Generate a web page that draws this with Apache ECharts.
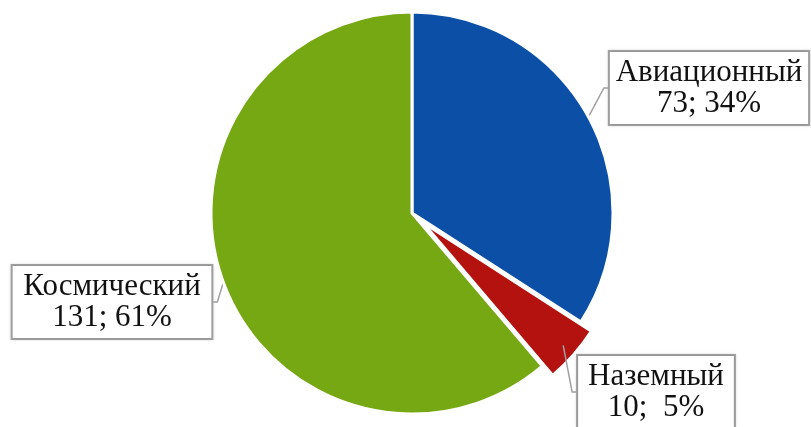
<!DOCTYPE html>
<html>
<head>
<meta charset="UTF-8">
<script src="https://cdn.jsdelivr.net/npm/echarts@6/dist/echarts.min.js"></script>
<style>
  body { margin: 0; background: #fff; }
  #chart { width: 811px; height: 427px; }
</style>
</head>
<body>
<div id="chart"></div>
<script>
// данные диаграммы
var names = ['Авиационный', 'Наземный', 'Космический'];
var values = [73, 10, 131];
var colors = ['#0c4fa6', '#b3120f', '#76a813'];
var exploded = 1; // выдвинутый сектор

// центры подписей (x, y)
var labelPos = [[709, 88], [656, 392], [112, 302]];

var cx = 412, cy = 213, R = 201, shift = 14;

// смещение выдвинутого сектора по биссектрисе
var total = values.reduce(function (a, b) { return a + b; }, 0);
var before = values.slice(0, exploded).reduce(function (a, b) { return a + b; }, 0);
var mid = (90 - (before + values[exploded] / 2) / total * 360) * Math.PI / 180;
var ex = cx + shift * Math.cos(mid), ey = cy - shift * Math.sin(mid);

var chart = echarts.init(document.getElementById('chart'));

var labelStyle = {
  show: true,
  formatter: function (p) {
    var sep = p.dataIndex === 1 ? ';  ' : '; ';
    return p.name + '\n' + p.value + sep + Math.round(p.percent) + '%';
  },
  overflow: 'none',
  fontFamily: 'Liberation Serif',
  fontSize: 31,
  lineHeight: 31,
  color: '#111',
  align: 'center',
  backgroundColor: '#fff',
  borderColor: '#a0a0a0',
  borderWidth: 2,
  padding: [6, 10, 4, 10],
  shadowColor: 'rgba(0,0,0,0.15)',
  shadowBlur: 3
};

chart.setOption({
  animation: false,
  series: [{
    // основной круг
    type: 'pie',
    center: [cx, cy],
    radius: R,
    startAngle: 90,
    clockwise: true,
    percentPrecision: 0,
    silent: true,
    itemStyle: { borderColor: '#fff', borderWidth: 3 },
    label: labelStyle,
    labelLine: {
      show: true,
      length: 6,
      length2: 4,
      lineStyle: { color: '#a0a0a0', width: 1.5 }
    },
    labelLayout: function (params) {
      var p = labelPos[params.dataIndex];
      return { x: p[0], y: p[1], align: 'center', verticalAlign: 'middle' };
    },
    data: names.map(function (n, i) {
      return {
        name: n,
        value: values[i],
        itemStyle: i === exploded
          ? { color: 'rgba(0,0,0,0)', borderColor: 'rgba(0,0,0,0)' }
          : { color: colors[i] }
      };
    }),
    z: 2
  }, {
    // выдвинутый сектор
    type: 'pie',
    center: [ex, ey],
    radius: R,
    startAngle: 90,
    clockwise: true,
    silent: true,
    label: { show: false },
    labelLine: { show: false },
    itemStyle: { borderColor: '#fff', borderWidth: 3 },
    data: names.map(function (n, i) {
      return {
        name: n,
        value: values[i],
        itemStyle: i === exploded
          ? { color: colors[i] }
          : { color: 'rgba(0,0,0,0)', borderColor: 'rgba(0,0,0,0)' }
      };
    }),
    z: 1
  }]
});
</script>
</body>
</html>
